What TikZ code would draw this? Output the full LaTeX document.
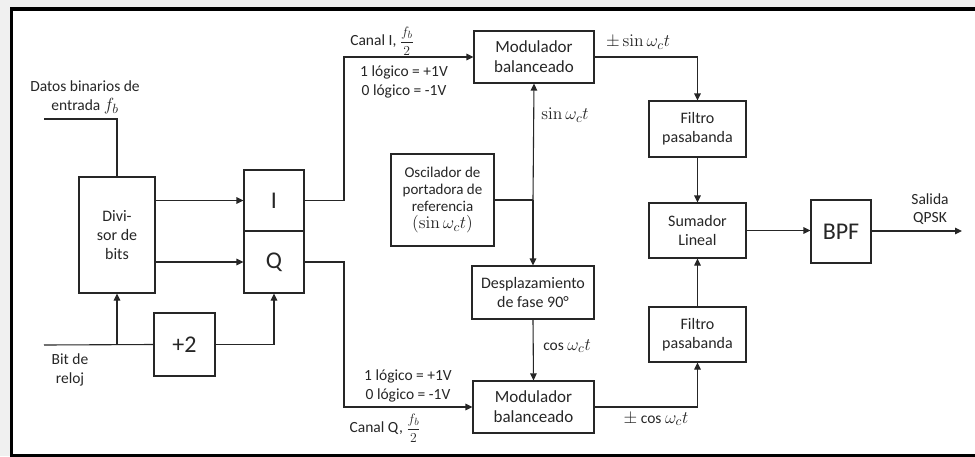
\documentclass[tikz,border=0pt]{standalone}
\usepackage{graphicx}
\usepackage{amsmath}
\usepackage[no-math]{fontspec}
\setmainfont{Carlito}
\usetikzlibrary{arrows.meta}
\definecolor{ink}{HTML}{262626}
\definecolor{paper}{HTML}{F0F0F0}
% math at the size of the surrounding text
\newcommand{\mth}[1]{\scalebox{1.22}{$#1$}}
\newcommand{\halfrate}{\scalebox{0.95}{$\dfrac{f_b}{2}$}}
\begin{document}
\begin{tikzpicture}[x=1pt,y=-1pt,
  blk/.style={draw=ink,line width=1.1pt,fill=white,inner sep=0pt,align=center,text=ink,
    font=\fontsize{16}{19}\selectfont},
  big/.style={font=\fontsize{24}{28}\selectfont},
  small/.style={font=\fontsize{15}{17}\selectfont},
  lbl/.style={text=ink,align=center,inner sep=0pt,font=\fontsize{15.5}{18.5}\selectfont},
  wire/.style={draw=ink,line width=1.1pt},
  arr/.style={wire,-{Triangle[length=7pt,width=6.5pt]}}]
% page and outer frame
\useasboundingbox (0,0) rectangle (975,456);
\fill[paper] (0,0) rectangle (975,456);
\begin{scope}
\clip (0,0) rectangle (975,456);
\draw[line width=3.8pt,fill=white] (11.5,9) rectangle (1000,455.8);
\end{scope}

% blocks
\node[blk,minimum width=76pt,minimum height=116pt] (div) at (117,235) {Divi-\\sor de\\bits};
\node[blk,big,minimum width=60pt,minimum height=61pt] (I) at (274,200.5) {I};
\node[blk,big,minimum width=60pt,minimum height=62pt] (Q) at (274,262) {Q};
\node[blk,big,minimum width=61pt,minimum height=63pt] (two) at (184.5,344.5) {+2};
\node[blk,font=\fontsize{17}{20}\selectfont,minimum width=120pt,minimum height=52pt] (mod1) at (534,57) {Modulador\\balanceado};
\node[blk,small,minimum width=103pt,minimum height=92pt] (osc) at (442.5,200) {Oscilador de\\portadora de\\referencia\\\mth{(\sin\omega_c t)}};
\node[blk,minimum width=122pt,minimum height=53pt] (desp) at (533,292.5) {Desplazamiento\\de fase 90°};
\node[blk,font=\fontsize{17}{20}\selectfont,minimum width=121pt,minimum height=52pt] (mod2) at (533.5,407) {Modulador\\balanceado};
\node[blk,minimum width=97pt,minimum height=56pt] (filt1) at (697.5,129) {Filtro\\pasabanda};
\node[blk,minimum width=97pt,minimum height=55pt] (sum) at (697.5,230.5) {Sumador\\Lineal};
\node[blk,minimum width=97pt,minimum height=55pt] (filt2) at (697.5,334.5) {Filtro\\pasabanda};
\node[blk,big,minimum width=60pt,minimum height=63pt] (bpf) at (841,231.5) {BPF};

% free wire ends
\coordinate (din) at (44,119);
\coordinate (clk) at (44,345);
\coordinate (out) at (962,231);
\coordinate (clkb) at (117,345);
\coordinate (lo) at (533,200);

% data and clock inputs
\draw[wire] (din) -- (din -| div.north) -- (div.north);
\draw[arr] (div.east |- I) -- (I.west);
\draw[arr] (div.east |- Q) -- (Q.west);
\draw[wire] (clk) -- (two.west);
\draw[arr] (clkb) -- (div.south);
\draw[arr] (two.east) -| (Q.south);

% I and Q channels
\draw[arr] (I.east) -- (344,200.5) |- (mod1.west);
\draw[arr] (Q.east) -- (344,262) |- (mod2.west);

% carrier distribution
\draw[wire] (osc.east |- lo) -- (lo);
\draw[arr] (lo) -- (mod1.south);
\draw[arr] (lo) -- (desp.north);
\draw[arr] (desp.south) -- (mod2.north);

% filtering and summing
\draw[arr] (mod1.east) -| (filt1.north);
\draw[arr] (filt1.south) -- (sum.north);
\draw[arr] (mod2.east) -| (filt2.south);
\draw[arr] (filt2.north) -- (sum.south);
\draw[arr] (sum.east) -- (sum.east -| bpf.west);
\draw[arr] (bpf.east |- out) -- (out);

% labels
\node[lbl] (tdin) at (85,97.5) {Datos binarios de\\entrada \mth{f_b}};
\node[lbl] (tclk) at (70,370) {Bit de\\reloj};
\node[lbl] (tci) at (382,41) {Canal I, \halfrate};
\node[lbl] (tvi) at (404,82) {1 lógico = +1V\\0 lógico = -1V};
\node[lbl] (tsin) at (565,115) {\mth{\sin\omega_c t}};
\node[lbl] (tpsin) at (638,42) {\mth{\pm\sin\omega_c t}};
\node[lbl] (tcos) at (567,346) {cos \mth{\omega_c t}};
\node[lbl] (tvq) at (408,386) {1 lógico = +1V\\0 lógico = -1V};
\node[lbl] (tcq) at (385,428) {Canal Q, \halfrate};
\node[lbl] (tpcos) at (656,419) {\mth{\pm} cos \mth{\omega_c t}};
\node[lbl] (tout) at (930,209) {Salida\\QPSK};
\end{tikzpicture}
\end{document}
